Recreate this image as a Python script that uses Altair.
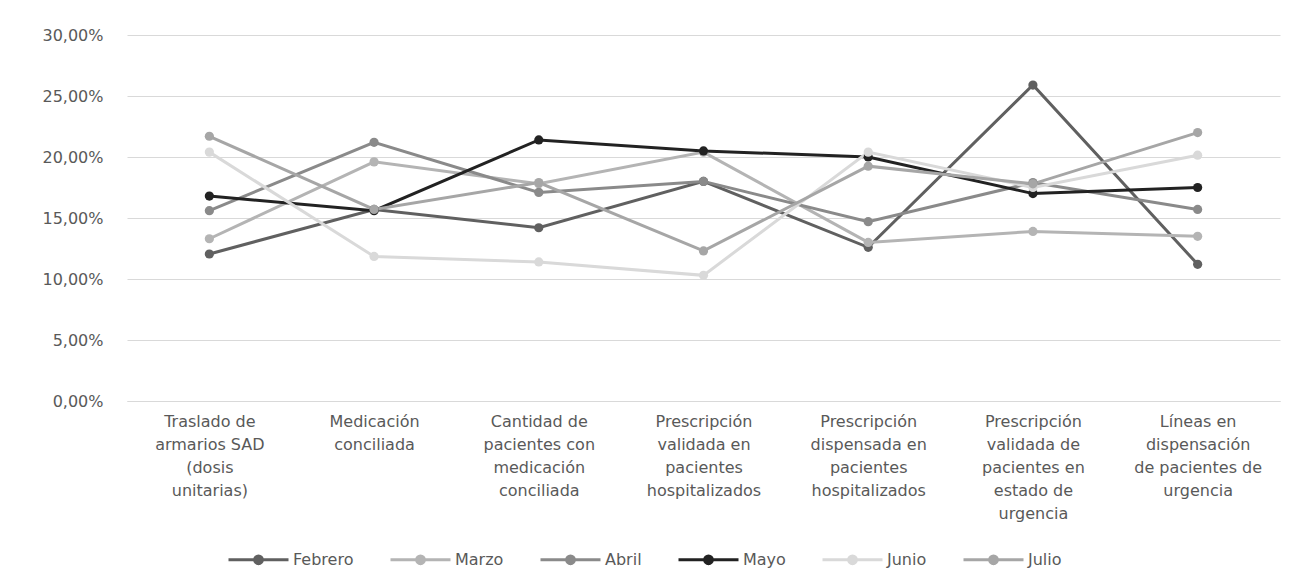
import altair as alt
import pandas as pd

category_lines = [
    ["Traslado de", "armarios SAD", "(dosis", "unitarias)"],
    ["Medicación", "conciliada"],
    ["Cantidad de", "pacientes con", "medicación", "conciliada"],
    ["Prescripción", "validada en", "pacientes", "hospitalizados"],
    ["Prescripción", "dispensada en", "pacientes", "hospitalizados"],
    ["Prescripción", "validada de", "pacientes en", "estado de", "urgencia"],
    ["Líneas en", "dispensación", "de pacientes de", "urgencia"],
]
categories = ["|".join(lines) for lines in category_lines]

months = ["Febrero", "Marzo", "Abril", "Mayo", "Junio", "Julio"]
colors = ["#606060", "#b4b4b4", "#8a8a8a", "#222222", "#d9d9d9", "#a6a6a6"]

febrero = [12.05, 15.7, 14.2, 18.0, 12.6, 25.9, 11.2]
marzo = [13.3, 19.6, 17.8, 20.4, 13.0, 13.9, 13.5]
abril = [15.6, 21.2, 17.1, 18.0, 14.7, 17.9, 15.7]
mayo = [16.8, 15.6, 21.4, 20.5, 20.0, 17.0, 17.5]
junio = [20.4, 11.85, 11.4, 10.3, 20.4, 17.5, 20.15]
julio = [21.7, 15.7, 17.9, 12.3, 19.25, 17.8, 22.0]

y_ticks = [0.0, 0.05, 0.10, 0.15, 0.20, 0.25, 0.30]

series = [febrero, marzo, abril, mayo, junio, julio]
rows = []
for m, vals in zip(months, series):
    for i, (c, v) in enumerate(zip(categories, vals)):
        rows.append({"Mes": m, "Indicador": c, "Orden": i, "Valor": v / 100.0})
df = pd.DataFrame(rows)

FONT = "DejaVu Sans"
TXT = "#595959"

def circ(r):
    return f"M{-r},0A{r},{r} 0 1,0 {r},0A{r},{r} 0 1,0 {-r},0"

legend_symbol = "M-1,0L1,0" + circ(0.13) + circ(0.08) + circ(0.03)

x_enc = alt.X(
    "Indicador:N",
    sort=categories,
    scale=alt.Scale(type="point", padding=0.5),
    axis=alt.Axis(
        title=None,
        labelExpr="split(datum.label, '|')",
        labelAngle=0,
        ticks=False,
        domainColor="#d9d9d9",
        domainWidth=1,
        labelColor=TXT,
        labelFont=FONT,
        labelFontSize=16,
        labelLineHeight=23,
        labelPadding=12,
        labelLimit=0,
        labelBaseline="top",
    ),
)
y_enc = alt.Y(
    "Valor:Q",
    scale=alt.Scale(domain=[0, 0.3], nice=False, zero=True),
    axis=alt.Axis(
        title=None,
        values=y_ticks,
        labelExpr="replace(format(datum.value, '.2%'), '.', ',')",
        ticks=False,
        domain=False,
        gridColor="#d9d9d9",
        gridWidth=1,
        labelColor=TXT,
        labelFont=FONT,
        labelFontSize=16,
        labelPadding=24,
    ),
)
color_scale = alt.Scale(domain=months, range=colors)

lines = alt.Chart(df).mark_line(strokeWidth=3).encode(
    x=x_enc,
    y=y_enc,
    color=alt.Color(
        "Mes:N",
        sort=months,
        scale=color_scale,
        legend=alt.Legend(
            title=None,
            orient="none",
            direction="horizontal",
            legendX=100,
            legendY=493,
            symbolType=legend_symbol,
            symbolSize=3600,
            symbolStrokeWidth=3,
            labelFont=FONT,
            labelFontSize=16,
            labelColor=TXT,
            labelOffset=3,
            columnPadding=30,
            padding=0,
        ),
    ),
    order=alt.Order("Orden:Q"),
)

points = alt.Chart(df).mark_circle(size=85, opacity=1).encode(
    x=x_enc,
    y=y_enc,
    color=alt.Color("Mes:N", sort=months, scale=color_scale, legend=None),
)

chart = (
    alt.layer(lines, points)
    .properties(
        width=1153,
        height=366,
        autosize=alt.AutoSizeParams(type="none"),
        padding={"left": 127, "top": 35, "right": 13, "bottom": 180},
        background="white",
    )
    .configure_view(stroke=None)
)

chart.save("out.html", embed_options={"renderer": "svg", "actions": False})
